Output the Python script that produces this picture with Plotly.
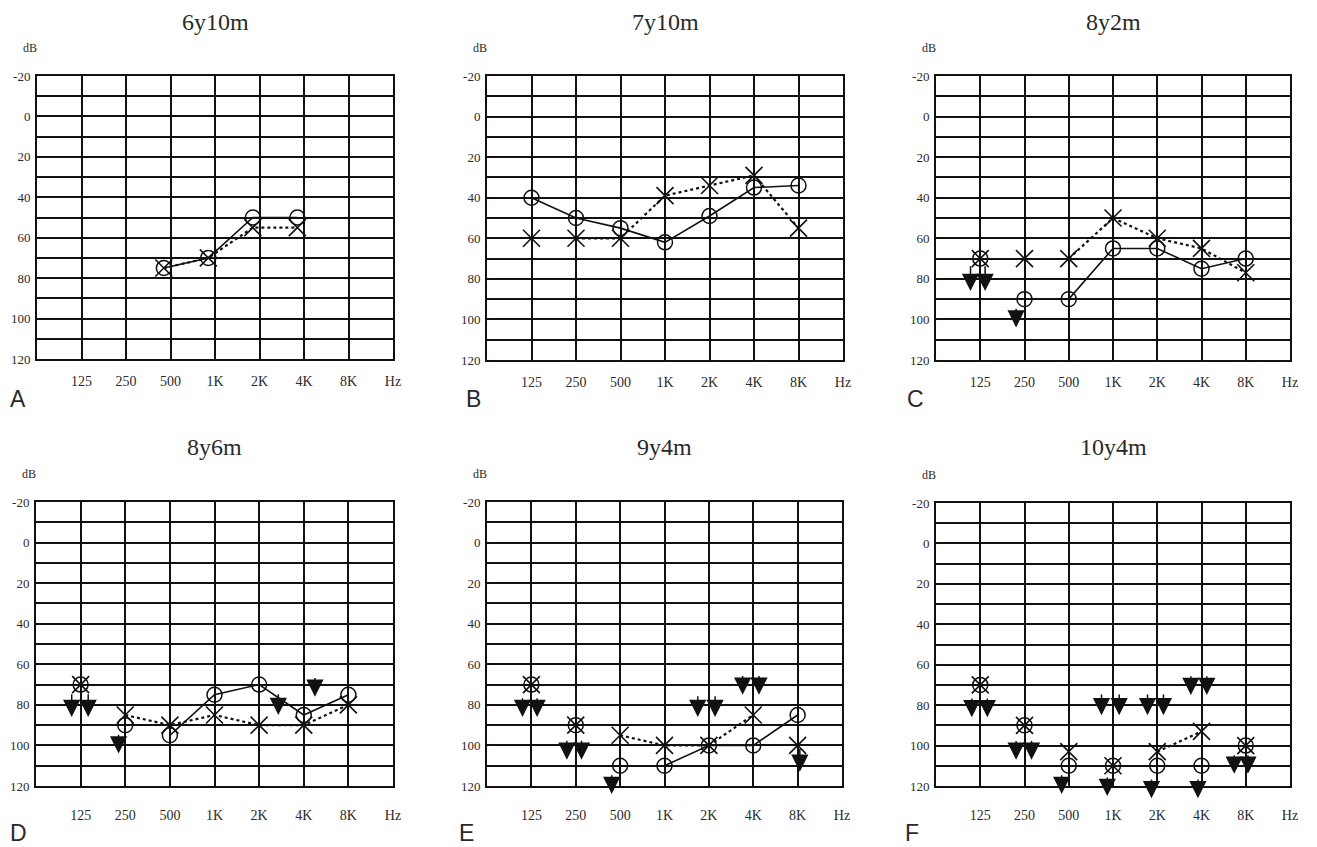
import plotly.graph_objects as go

W, H = 1317, 847

# ---------------- data ----------------
FREQS = ["125", "250", "500", "1K", "2K", "4K", "8K"]
X_TICK_TEXT = FREQS + ["Hz"]
DB_GRID = list(range(-20, 121, 10))
DB_LABELS = [str(v) if v % 20 == 0 else "" for v in DB_GRID]

TITLES = ["6y10m", "7y10m", "8y2m", "8y6m", "9y4m", "10y4m"]
LETTERS = ["A", "B", "C", "D", "E", "F"]

# O = right ear (solid line), X = left ear (dotted line); None = not plotted
A_O = [None, None, 75, 70, 50, 50, None]
A_X = [None, None, 75, 70, 55, 55, None]
A_O_LINK = ["500", "1K", "2K", "4K"]
A_X_LINK = ["500", "1K", "2K", "4K"]
A_ARROWS = []

B_O = [40, 50, 55, 62, 49, 35, 34]
B_X = [60, 60, 60, 39, 34, 29, 55]
B_O_LINK = ["125", "250", "500", "1K", "2K", "4K", "8K"]
B_X_LINK = ["250", "500", "1K", "2K", "4K", "8K"]
B_ARROWS = []

C_O = [70, 90, 90, 65, 65, 75, 70]
C_X = [70, 70, 70, 50, 60, 65, 77]
C_O_LINK = ["500", "1K", "2K", "4K", "8K"]
C_X_LINK = ["500", "1K", "2K", "4K", "8K"]
# (frequency, side offset in columns, from dB, to dB)
C_ARROWS = [("125", -0.22, 73, 86), ("125", 0.11, 73, 86), ("250", -0.19, 94, 104)]

D_O = [70, 90, 95, 75, 70, 85, 75]
D_X = [70, 85, 90, 85, 90, 90, 80]
D_O_LINK = ["500", "1K", "2K", "4K", "8K"]
D_X_LINK = ["250", "500", "1K", "2K", "4K", "8K"]
D_ARROWS = [("125", -0.2, 74, 86), ("125", 0.17, 74, 86), ("250", -0.15, 94, 104),
            ("2K", 0.43, 74, 85), ("4K", 0.25, 66, 76)]

E_O = [70, 90, 110, 110, 100, 100, 85]
E_X = [70, 90, 95, 100, 100, 85, 100]
E_O_LINK = ["1K", "2K", "4K", "8K"]
E_X_LINK = ["500", "1K", "2K", "4K"]
E_ARROWS = [("125", -0.2, 76, 86), ("125", 0.13, 76, 86),
            ("250", -0.2, 97, 107), ("250", 0.13, 97, 107),
            ("500", -0.19, 114, 124),
            ("2K", -0.25, 75, 86), ("2K", 0.14, 75, 86),
            ("4K", -0.24, 65, 75), ("4K", 0.13, 65, 75),
            ("8K", 0.05, 101, 113)]

F_O = [70, 90, 110, 110, 110, 110, 100]
F_X = [70, 90, 103, 110, 103, 93, 100]
F_O_LINK = []
F_X_LINK = ["2K", "4K"]
F_ARROWS = [("125", -0.19, 76, 86), ("125", 0.16, 76, 86),
            ("250", -0.19, 97, 107), ("250", 0.16, 97, 107),
            ("500", -0.16, 114, 124),
            ("1K", -0.26, 74, 85), ("1K", 0.14, 74, 85), ("1K", -0.13, 115, 125),
            ("2K", -0.22, 74, 85), ("2K", 0.14, 74, 85), ("2K", -0.13, 116, 126),
            ("4K", -0.24, 65, 75), ("4K", 0.12, 65, 75), ("4K", -0.08, 116, 126),
            ("8K", -0.26, 104, 114), ("8K", 0.05, 104, 114)]

PANELS = [
    (A_O, A_X, A_O_LINK, A_X_LINK, A_ARROWS),
    (B_O, B_X, B_O_LINK, B_X_LINK, B_ARROWS),
    (C_O, C_X, C_O_LINK, C_X_LINK, C_ARROWS),
    (D_O, D_X, D_O_LINK, D_X_LINK, D_ARROWS),
    (E_O, E_X, E_O_LINK, E_X_LINK, E_ARROWS),
    (F_O, F_X, F_O_LINK, F_X_LINK, F_ARROWS),
]

# ---------------- layout / style ----------------
# plot boxes in screen pixels: left, right, top, bottom
BOXES = [(37, 393, 76, 359), (487, 843, 76, 360), (936, 1290, 76, 360),
         (36, 393, 502, 786), (487, 842, 502, 786), (936, 1290, 503, 786)]
X_SHIFT = [-0.15, 0, 0, 0, 0, 0]
X_TICKLEN = [8, 8, 8, 15, 15, 15]
TITLE_Y = [22, 22, 22, 447, 447, 447]
LETTER_XY = [(18, 399), (473, 399), (915, 399), (18, 833), (466, 833), (912, 833)]
PAGE_MARGIN = 8  # default body margin of the html page

INK = "#111111"
TXT = "#2a2a2a"
SERIF = "Liberation Serif, Times New Roman, serif"
SANS = "Liberation Sans, Arial, sans-serif"


def px(x):
    return (x - PAGE_MARGIN) / W


def py(y):
    return 1 - (y - PAGE_MARGIN) / H


fig = go.Figure()
annotations = []
layout = {}

for i, (o_vals, x_vals, o_link, x_link, arrows) in enumerate(PANELS):
    n = i + 1
    xa = "x" if n == 1 else f"x{n}"
    ya = "y" if n == 1 else f"y{n}"
    l, r, t, b = BOXES[i]
    sh = X_SHIFT[i]

    layout["xaxis" if n == 1 else f"xaxis{n}"] = dict(
        domain=[px(l), px(r)], anchor=ya, range=[0, 8], automargin=False,
        tickmode="array", tickvals=list(range(1, 9)), ticktext=X_TICK_TEXT,
        showgrid=True, gridcolor=INK, gridwidth=1.8,
        showline=True, mirror=True, linecolor=INK, linewidth=2,
        ticks="outside", ticklen=X_TICKLEN[i], tickcolor="rgba(0,0,0,0)",
        tickfont=dict(family=SERIF, size=14, color=TXT),
        zeroline=False, fixedrange=True,
    )
    layout["yaxis" if n == 1 else f"yaxis{n}"] = dict(
        domain=[py(b), py(t)], anchor=xa, range=[120, -20], automargin=False,
        tickmode="array", tickvals=DB_GRID, ticktext=DB_LABELS,
        showgrid=True, gridcolor=INK, gridwidth=1.8,
        showline=True, mirror=True, linecolor=INK, linewidth=2,
        ticks="outside", ticklen=2, tickcolor="rgba(0,0,0,0)",
        tickfont=dict(family=SERIF, size=13, color=TXT),
        zeroline=False, fixedrange=True,
    )

    def pts(vals, link=None):
        xs, ys = [], []
        for k, f in enumerate(FREQS):
            if vals[k] is None:
                continue
            if link is not None and f not in link:
                continue
            xs.append(k + 1 + sh)
            ys.append(vals[k])
        return xs, ys

    # lines
    lx, ly = pts(o_vals, o_link)
    if len(lx) > 1:
        fig.add_trace(go.Scatter(x=lx, y=ly, mode="lines", xaxis=xa, yaxis=ya,
                                 line=dict(color=INK, width=1.6), hoverinfo="skip"))
    lx, ly = pts(x_vals, x_link)
    if len(lx) > 1:
        fig.add_trace(go.Scatter(x=lx, y=ly, mode="lines", xaxis=xa, yaxis=ya,
                                 line=dict(color=INK, width=2.2, dash="dot"), hoverinfo="skip"))
    # markers
    mx, my = pts(o_vals)
    fig.add_trace(go.Scatter(x=mx, y=my, mode="markers", xaxis=xa, yaxis=ya, cliponaxis=False,
                             marker=dict(symbol="circle-open", size=15, color=INK,
                                         line=dict(width=1.5, color=INK))))
    mx, my = pts(x_vals)
    fig.add_trace(go.Scatter(x=mx, y=my, mode="markers", xaxis=xa, yaxis=ya, cliponaxis=False,
                             marker=dict(symbol="x-thin-open", size=17, color=INK,
                                         line=dict(width=1.6, color=INK))))

    # no-response arrows
    for f, dx, y0, y1 in arrows:
        xpos = FREQS.index(f) + 1 + dx + sh
        annotations.append(dict(
            xref=xa, yref=ya, axref=xa, ayref=ya,
            x=xpos, y=y1, ax=xpos, ay=y0, text="",
            showarrow=True, arrowhead=2, arrowsize=2.3, arrowwidth=1.5,
            arrowcolor=INK,
        ))

    # titles, dB labels, panel letters
    annotations.append(dict(xref="paper", yref="paper", x=px((l + r) / 2), y=py(TITLE_Y[i]),
                            text=TITLES[i], showarrow=False, xanchor="center", yanchor="middle",
                            font=dict(family=SERIF, size=24, color=TXT)))
    annotations.append(dict(xref="paper", yref="paper", x=px(l - 7), y=py(t - 28),
                            text="dB", showarrow=False, xanchor="center", yanchor="middle",
                            font=dict(family=SERIF, size=12, color=TXT)))
    lx_, ly_ = LETTER_XY[i]
    annotations.append(dict(xref="paper", yref="paper", x=px(lx_), y=py(ly_),
                            text=LETTERS[i], showarrow=False, xanchor="center", yanchor="middle",
                            font=dict(family=SANS, size=23, color=TXT)))

fig.update_layout(
    width=W, height=H, margin=dict(l=0, r=0, t=0, b=0, autoexpand=False),
    paper_bgcolor="white", plot_bgcolor="white",
    showlegend=False, annotations=annotations, **layout,
)

fig.write_html("out.html")
